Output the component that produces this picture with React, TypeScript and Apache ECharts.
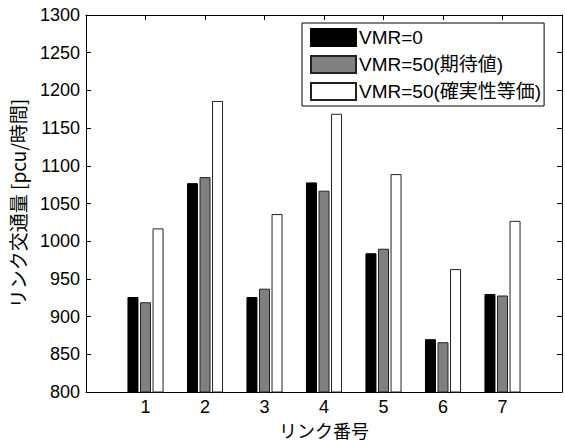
import React, { useEffect, useRef } from "react";
import * as echarts from "echarts";

const categories = ["0", "1", "2", "3", "4", "5", "6", "7", "8"];
const seriesNames = ["VMR=0", "VMR=50(期待値)", "VMR=50(確実性等価)"];
const vmr0 = [926, 1077, 926, 1078, 984, 870, 930];
const vmr50Expected = [919, 1085, 937, 1067, 990, 866, 928];
const vmr50CE = [1017, 1186, 1036, 1169, 1089, 963, 1027];
const yMin = 800;
const yMax = 1300;
const yInterval = 50;

const FONT = '"Liberation Sans", "Noto Sans CJK JP", sans-serif';
const JFONT = '"Noto Sans CJK JP", sans-serif';

const pad = (arr: number[]) => [null, ...arr, null];

export default function App() {
  const ref = useRef<HTMLDivElement>(null);
  useEffect(() => {
    document.body.style.margin = "0";
    const chart = echarts.init(ref.current!, undefined, { renderer: "svg" });
    const tickShow = (i: number) => i >= 1 && i <= 7;
    const xBase = {
      type: "category",
      data: categories,
      boundaryGap: false,
      axisLine: { lineStyle: { color: "#000", width: 1 } },
      axisTick: { inside: true, length: 5, interval: tickShow, lineStyle: { color: "#000" } },
      splitLine: { show: false },
    };
    const yBase = {
      type: "value",
      min: yMin,
      max: yMax,
      interval: yInterval,
      axisLine: { show: true, lineStyle: { color: "#000", width: 1 } },
      axisTick: { show: true, inside: true, length: 5, lineStyle: { color: "#000" } },
      splitLine: { show: false },
    };
    const barCommon = {
      type: "bar",
      barWidth: 11,
      barGap: "14%",
      xAxisIndex: 0,
      yAxisIndex: 0,
    };
    chart.setOption({
      animation: false,
      backgroundColor: "#fff",
      grid: { left: 85, right: 3, top: 15, bottom: 54, containLabel: false },
      legend: {
        orient: "vertical",
        left: 302,
        top: 23,
        itemWidth: 45,
        itemHeight: 17,
        itemGap: 8,
        padding: [5, 3, 5, 8],
        borderColor: "#000",
        borderWidth: 1,
        backgroundColor: "#fff",
        icon: "rect",
        textStyle: { fontSize: 19, fontFamily: FONT, color: "#000", padding: [0, 0, 0, -2] },
        data: seriesNames,
      },
      xAxis: [
        {
          ...xBase,
          position: "bottom",
          name: "リンク番号",
          nameLocation: "middle",
          nameGap: 29,
          nameTextStyle: { fontSize: 18, fontFamily: JFONT, color: "#000" },
          axisLabel: {
            margin: 6,
            fontSize: 18,
            fontFamily: FONT,
            color: "#000",
            interval: 0,
            formatter: (v: string) => (v === "0" || v === "8" ? "" : v),
          },
        },
        {
          ...xBase,
          position: "top",
          axisLabel: { show: false },
        },
      ],
      yAxis: [
        {
          ...yBase,
          position: "left",
          name: "リンク交通量 [pcu/時間]",
          nameLocation: "middle",
          nameGap: 59,
          nameTextStyle: { fontSize: 19, fontFamily: JFONT, color: "#000" },
          axisLabel: {
            margin: 6,
            fontSize: 18,
            fontFamily: FONT,
            color: "#000",
            formatter: (v: number) => String(v),
          },
        },
        {
          ...yBase,
          position: "right",
          axisLabel: { show: false },
        },
      ],
      series: [
        {
          ...barCommon,
          name: seriesNames[0],
          data: pad(vmr0),
          itemStyle: { color: "#000", borderColor: "#000", borderWidth: 1 },
        },
        {
          ...barCommon,
          name: seriesNames[1],
          data: pad(vmr50Expected),
          itemStyle: { color: "#808080", borderColor: "#222", borderWidth: 1 },
        },
        {
          ...barCommon,
          name: seriesNames[2],
          data: pad(vmr50CE),
          itemStyle: { color: "#fff", borderColor: "#222", borderWidth: 1 },
        },
      ],
    });
    return () => chart.dispose();
  }, []);
  return (
    <div
      ref={ref}
      style={{ position: "absolute", left: 0, top: 0, width: 565, height: 446 }}
    />
  );
}
